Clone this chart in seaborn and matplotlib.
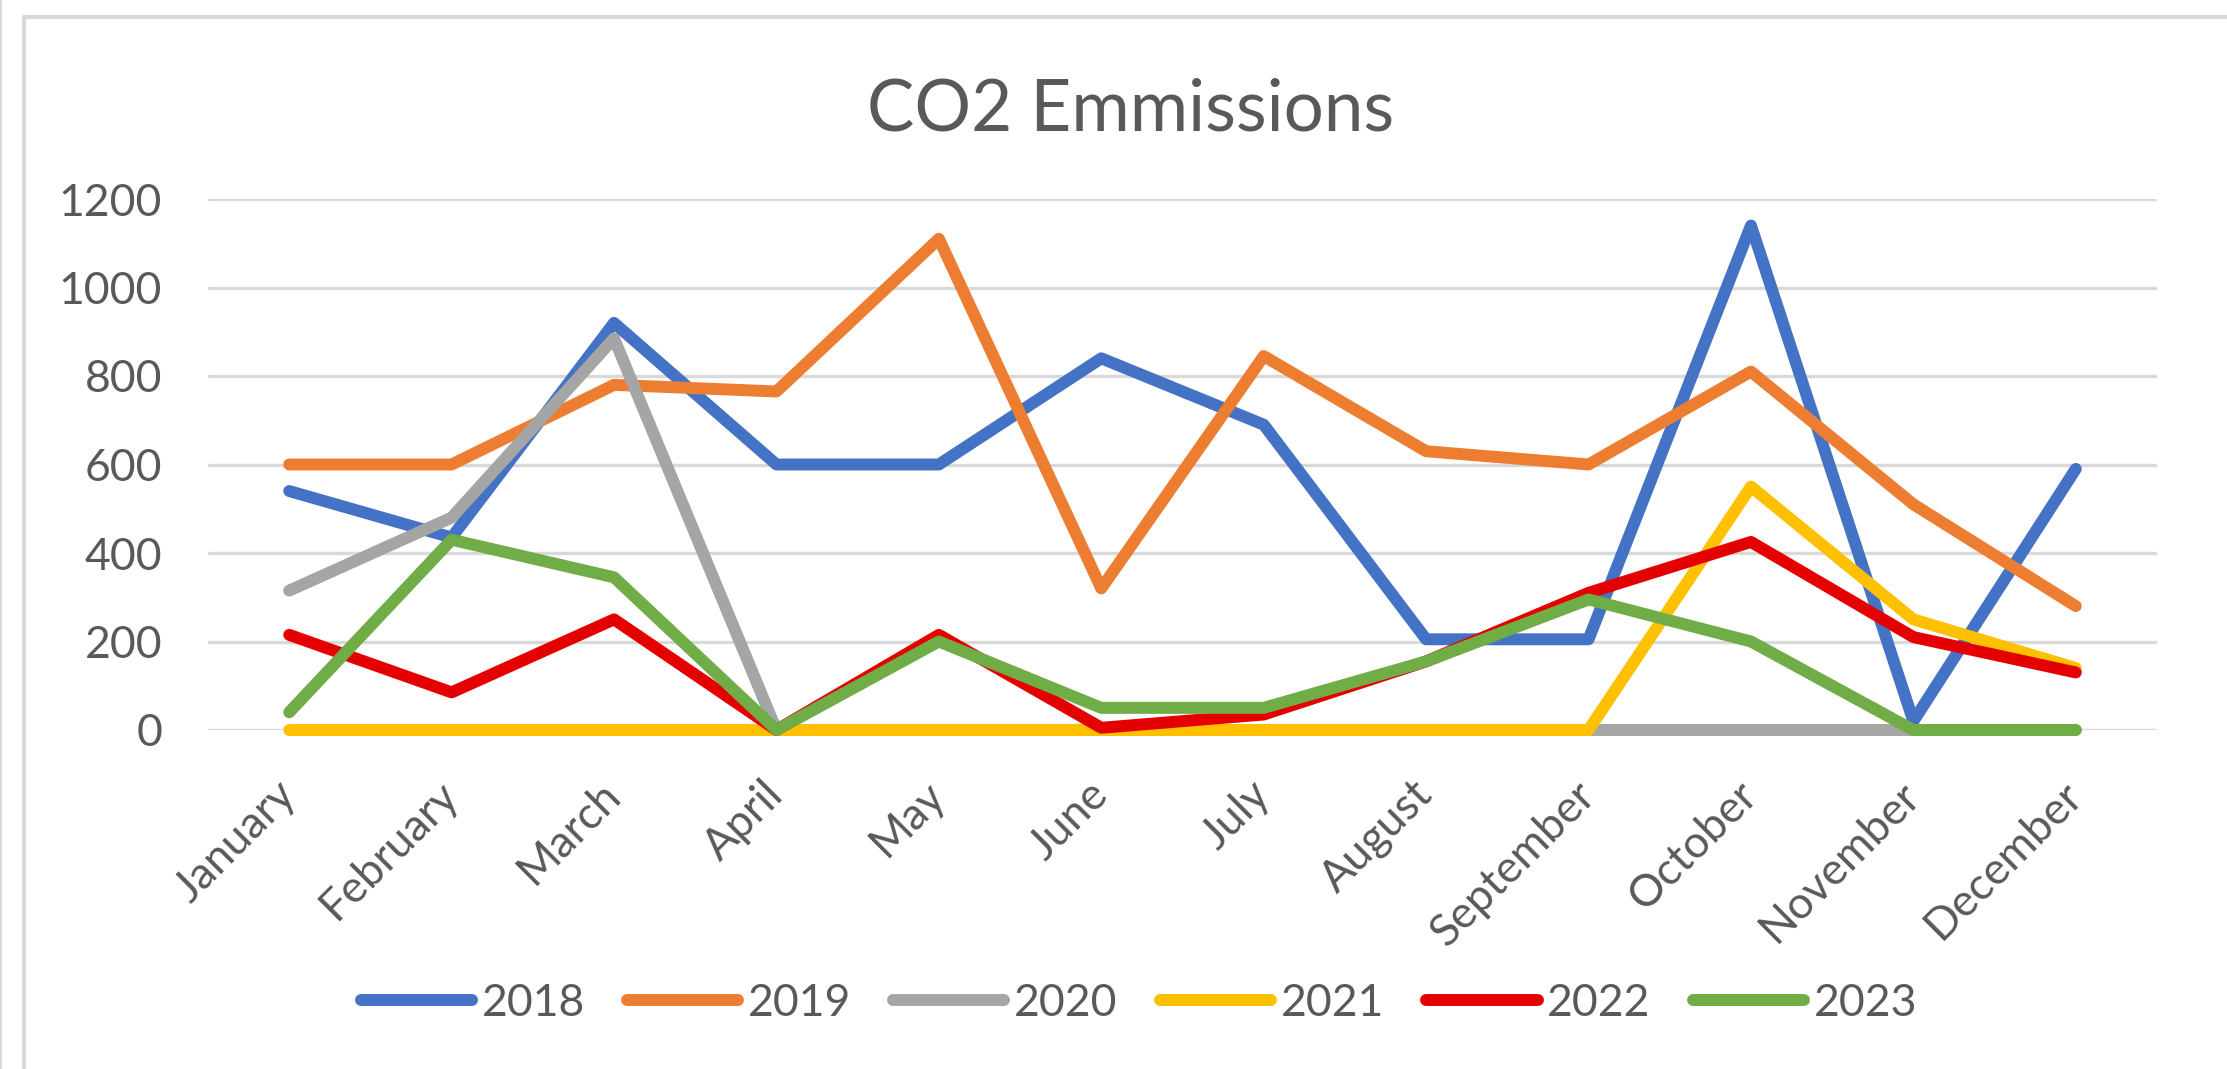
import pandas as pd
import numpy as np
import seaborn as sns
import matplotlib.pyplot as plt
from matplotlib.lines import Line2D

# Dados (emissões de CO2 por mês)
meses = ['January', 'February', 'March', 'April', 'May', 'June',
         'July', 'August', 'September', 'October', 'November', 'December']
anos = ['2018', '2019', '2020', '2021', '2022', '2023']

v2018 = [540, 435, 920, 600, 600, 840, 690, 205, 205, 1140, 20, 590]
v2019 = [600, 600, 780, 765, 1110, 320, 845, 630, 600, 810, 510, 280]
v2020 = [315, 480, 885, 0, 0, 0, 0, 0, 0, 0, 0, 0]
v2021 = [0, 0, 0, 0, 0, 0, 0, 0, 0, 550, 250, 140]
v2022 = [215, 85, 250, 0, 215, 5, 35, 155, 310, 425, 210, 130]
v2023 = [40, 430, 345, 0, 200, 50, 50, 155, 295, 200, 0, 0]

cores = ['#4472C4', '#ED7D31', '#A5A5A5', '#FFC000', '#E50000', '#70AD47']

valores = [v2018, v2019, v2020, v2021, v2022, v2023]
df = pd.DataFrame({
    'mes': np.tile(np.arange(len(meses)), len(anos)),
    'ano': np.repeat(anos, len(meses)),
    'emissoes': np.concatenate(valores),
})

sns.set_style('white')
plt.rcParams['font.family'] = ['Lato', 'DejaVu Sans']

fig = plt.figure(figsize=(22.27, 10.69), dpi=100)
ax = fig.add_axes([208 / 2227, 1 - 730 / 1069, (2157 - 208) / 2227, (730 - 199) / 1069])

sns.lineplot(data=df, x='mes', y='emissoes', hue='ano', palette=cores,
             linewidth=8.6, legend=False, ax=ax, sort=False)
for ln in ax.get_lines():
    ln.set_solid_capstyle('round')
    ln.set_solid_joinstyle('round')
    ln.set_clip_on(False)
    ln.set_zorder(3)

ax.set_xlim(-0.5, 11.5)
ax.set_ylim(0, 1200)
ax.set_yticks(range(0, 1201, 200))
ax.set_xticks(range(len(meses)))
ax.set_xticklabels(meses)
ax.grid(axis='y', color='#D9D9D9', linewidth=2.4)
ax.set_axisbelow(True)
for s in ax.spines.values():
    s.set_visible(False)
ax.set_xlabel('')
ax.set_ylabel('')
ax.tick_params(axis='y', length=0, pad=33, labelsize=32, labelcolor='#595959')
ax.tick_params(axis='x', length=0, pad=42, labelsize=32, labelcolor='#595959')
plt.setp(ax.get_xticklabels(), rotation=45, ha='right', va='center', rotation_mode='anchor')

fig.text(1131 / 2227, 1 - 110 / 1069, 'CO2 Emmissions', ha='center', va='center',
         fontsize=51, color='#595959')

handles = [Line2D([0], [0], color=c, linewidth=8.6, solid_capstyle='round') for c in cores]
fig.legend(handles, anos, loc='center', bbox_to_anchor=(1139 / 2227, 1 - 1003 / 1069),
           ncol=6, frameon=False, fontsize=32, labelcolor='#595959',
           handlelength=2.5, handletextpad=0.22, columnspacing=0.95)

# borda do gráfico (estilo Excel)
fig.add_artist(Line2D([24 / 2227, 24 / 2227], [0, 1 - 17 / 1069], color='#D9D9D9', linewidth=3))
fig.add_artist(Line2D([24 / 2227, 1], [1 - 17 / 1069, 1 - 17 / 1069], color='#D9D9D9', linewidth=3))
fig.add_artist(Line2D([1 / 2227, 1 / 2227], [0, 1], color='#D9D9D9', linewidth=1.5))

fig.savefig('out.png', dpi=100, facecolor='white')
